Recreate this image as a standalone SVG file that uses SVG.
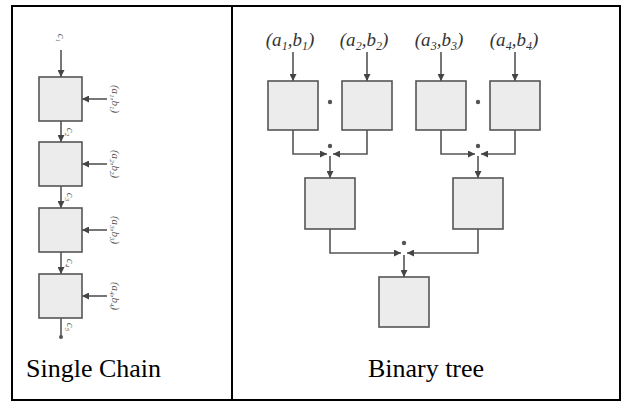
<svg xmlns="http://www.w3.org/2000/svg" width="622" height="403" viewBox="0 0 622 403">
<style>
.frame{fill:none;stroke:#000;stroke-width:2}
.box{fill:#ececec;stroke:#555;stroke-width:1.6}
.wire{fill:none;stroke:#555;stroke-width:1.6}
.cap{font-family:"Liberation Serif","Times New Roman",serif;font-size:26px;fill:#000}
.lab{font-family:"Liberation Serif","Times New Roman",serif;font-style:italic;font-size:19px;fill:#333}
.sml{font-family:"Liberation Serif","Times New Roman",serif;font-style:italic;font-size:11px;fill:#555}
.dot{fill:#555}
</style>
<defs>
<marker id="ah" viewBox="0 0 8 8" refX="8" refY="4" markerWidth="7" markerHeight="7" markerUnits="userSpaceOnUse" orient="auto">
<path d="M0,0 L8,4 L0,8 z" fill="#444"/>
</marker>
</defs>
<g id="table">
<rect class="frame" x="12" y="6" width="608" height="394"/>
<line class="frame" x1="232" y1="6" x2="232" y2="400"/>
</g>
<g id="connectors">
<line class="wire" x1="61" y1="50" x2="61" y2="77" marker-end="url(#ah)"/>
<line class="wire" x1="61" y1="121" x2="61" y2="142" marker-end="url(#ah)"/>
<line class="wire" x1="61" y1="186" x2="61" y2="208" marker-end="url(#ah)"/>
<line class="wire" x1="61" y1="252" x2="61" y2="274" marker-end="url(#ah)"/>
<line class="wire" x1="61" y1="318" x2="61" y2="336"/>
<circle class="dot" cx="61" cy="337" r="2"/>
<line class="wire" x1="107" y1="99" x2="82" y2="99" marker-end="url(#ah)"/>
<line class="wire" x1="107" y1="164" x2="82" y2="164" marker-end="url(#ah)"/>
<line class="wire" x1="107" y1="230" x2="82" y2="230" marker-end="url(#ah)"/>
<line class="wire" x1="107" y1="296" x2="82" y2="296" marker-end="url(#ah)"/>
<line class="wire" x1="293" y1="52" x2="293" y2="81" marker-end="url(#ah)"/>
<line class="wire" x1="367" y1="52" x2="367" y2="81" marker-end="url(#ah)"/>
<line class="wire" x1="441" y1="52" x2="441" y2="81" marker-end="url(#ah)"/>
<line class="wire" x1="515" y1="52" x2="515" y2="81" marker-end="url(#ah)"/>
<path class="wire" d="M293,130 V154 H327" marker-end="url(#ah)"/>
<path class="wire" d="M367,130 V154 H333" marker-end="url(#ah)"/>
<line class="wire" x1="330" y1="156" x2="330" y2="178" marker-end="url(#ah)"/>
<path class="wire" d="M441,130 V154 H475" marker-end="url(#ah)"/>
<path class="wire" d="M515,130 V154 H481" marker-end="url(#ah)"/>
<line class="wire" x1="478" y1="156" x2="478" y2="178" marker-end="url(#ah)"/>
<path class="wire" d="M330,229 V253 H401" marker-end="url(#ah)"/>
<path class="wire" d="M478,229 V253 H407" marker-end="url(#ah)"/>
<line class="wire" x1="404" y1="255" x2="404" y2="277" marker-end="url(#ah)"/>
<circle class="dot" cx="330" cy="102" r="2.2"/>
<circle class="dot" cx="478" cy="102" r="2.2"/>
<circle class="dot" cx="330" cy="146" r="2.2"/>
<circle class="dot" cx="478" cy="146" r="2.2"/>
<circle class="dot" cx="404" cy="243" r="2.2"/>
</g>
<g id="chain1"><rect class="box" x="39" y="77" width="43" height="44"/></g>
<g id="chain2"><rect class="box" x="39" y="142" width="43" height="44"/></g>
<g id="chain3"><rect class="box" x="39" y="208" width="43" height="44"/></g>
<g id="chain4"><rect class="box" x="39" y="274" width="43" height="44"/></g>
<g id="chain-labels">
<text class="sml" transform="translate(58,38) rotate(90)" text-anchor="middle">c<tspan font-size="7" dy="2">1</tspan></text>
<text class="sml" transform="translate(67,132) rotate(90)" text-anchor="middle">c<tspan font-size="7" dy="2">2</tspan></text>
<text class="sml" transform="translate(67,197) rotate(90)" text-anchor="middle">c<tspan font-size="7" dy="2">3</tspan></text>
<text class="sml" transform="translate(67,263) rotate(90)" text-anchor="middle">c<tspan font-size="7" dy="2">4</tspan></text>
<text class="sml" transform="translate(67,327) rotate(90)" text-anchor="middle">c<tspan font-size="7" dy="2">5</tspan></text>
<text class="sml" transform="translate(112,99) rotate(90)" text-anchor="middle">(a<tspan font-size="7" dy="2">1</tspan><tspan dy="-2">,b</tspan><tspan font-size="7" dy="2">1</tspan><tspan dy="-2">)</tspan></text>
<text class="sml" transform="translate(112,164) rotate(90)" text-anchor="middle">(a<tspan font-size="7" dy="2">2</tspan><tspan dy="-2">,b</tspan><tspan font-size="7" dy="2">2</tspan><tspan dy="-2">)</tspan></text>
<text class="sml" transform="translate(112,230) rotate(90)" text-anchor="middle">(a<tspan font-size="7" dy="2">3</tspan><tspan dy="-2">,b</tspan><tspan font-size="7" dy="2">3</tspan><tspan dy="-2">)</tspan></text>
<text class="sml" transform="translate(112,296) rotate(90)" text-anchor="middle">(a<tspan font-size="7" dy="2">4</tspan><tspan dy="-2">,b</tspan><tspan font-size="7" dy="2">4</tspan><tspan dy="-2">)</tspan></text>
</g>
<g id="t1"><rect class="box" x="268" y="81" width="50" height="49"/></g>
<g id="t2"><rect class="box" x="342" y="81" width="50" height="49"/></g>
<g id="t3"><rect class="box" x="416" y="81" width="50" height="49"/></g>
<g id="t4"><rect class="box" x="490" y="81" width="50" height="49"/></g>
<g id="t5"><rect class="box" x="305" y="178" width="50" height="51"/></g>
<g id="t6"><rect class="box" x="453" y="178" width="50" height="51"/></g>
<g id="t7"><rect class="box" x="379" y="277" width="50" height="50"/></g>
<g id="tree-labels">
<text class="lab" x="290" y="46" text-anchor="middle">(a<tspan font-size="12" dy="4">1</tspan><tspan dy="-4">,b</tspan><tspan font-size="12" dy="4">1</tspan><tspan dy="-4">)</tspan></text>
<text class="lab" x="364" y="46" text-anchor="middle">(a<tspan font-size="12" dy="4">2</tspan><tspan dy="-4">,b</tspan><tspan font-size="12" dy="4">2</tspan><tspan dy="-4">)</tspan></text>
<text class="lab" x="439" y="46" text-anchor="middle">(a<tspan font-size="12" dy="4">3</tspan><tspan dy="-4">,b</tspan><tspan font-size="12" dy="4">3</tspan><tspan dy="-4">)</tspan></text>
<text class="lab" x="514" y="46" text-anchor="middle">(a<tspan font-size="12" dy="4">4</tspan><tspan dy="-4">,b</tspan><tspan font-size="12" dy="4">4</tspan><tspan dy="-4">)</tspan></text>
</g>
<g id="captions">
<text class="cap" x="26" y="377">Single Chain</text>
<text class="cap" x="426" y="377" text-anchor="middle">Binary tree</text>
</g>
</svg>
